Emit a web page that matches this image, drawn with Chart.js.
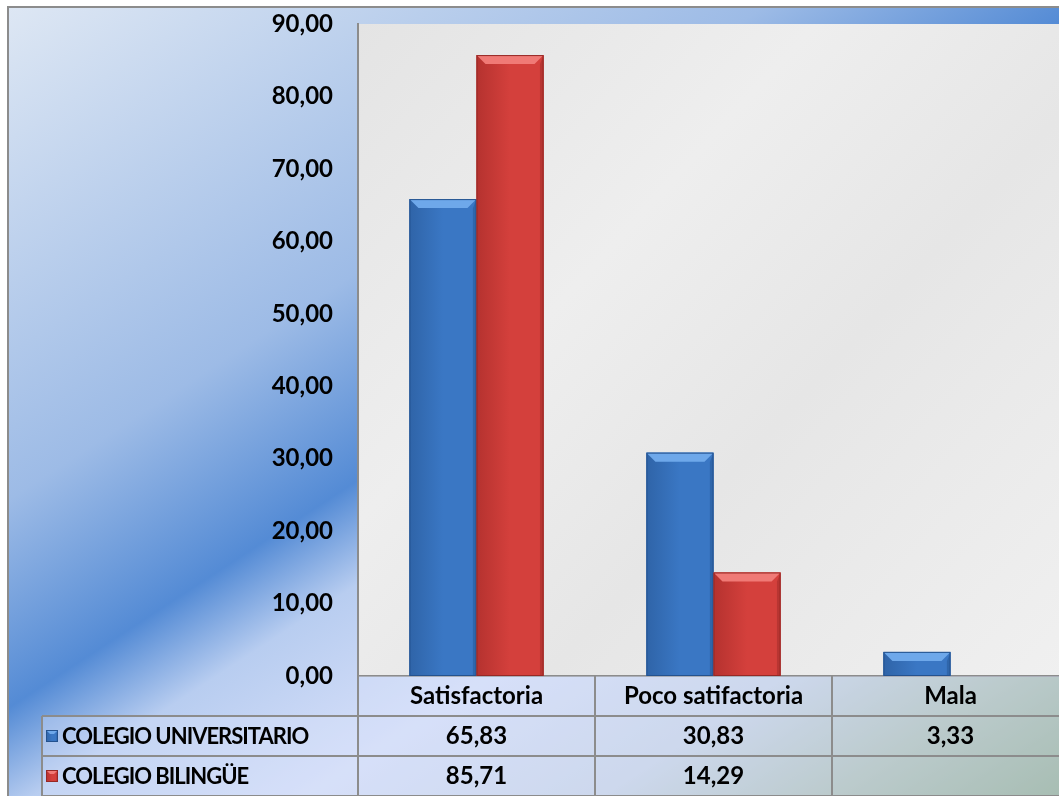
<!DOCTYPE html>
<html>
<head>
<meta charset="utf-8">
<script src="https://cdn.jsdelivr.net/npm/chart.js@4"></script>
<style>
  html, body { margin: 0; padding: 0; background: #fff; overflow: hidden; }
  #wrap { width: 1075px; height: 796px; }
</style>
</head>
<body>
<div id="wrap"><canvas id="chart" width="1075" height="796"></canvas></div>
<script>
const categories = ['Satisfactoria', 'Poco satifactoria', 'Mala'];
const seriesNames = ['COLEGIO UNIVERSITARIO', 'COLEGIO BILINGÜE'];
const universitario = [65.83, 30.83, 3.33];
const bilingue = [85.71, 14.29, null];
const yTicks = [0, 10, 20, 30, 40, 50, 60, 70, 80, 90];

const FONT = 'Lato, "Noto Sans", sans-serif';
const fmt = v => v.toFixed(2).replace('.', ',');

const palette = [
  { body: '#3a77c4', dark: '#24528e', light: '#6ea8ea', left: '#2f64a8' },
  { body: '#d4403c', dark: '#962825', light: '#f07a76', left: '#b5322f' }
];

function bevelRect(ctx, l, t, w, h, c, b) {
  const r = l + w, btm = t + h;
  const g = ctx.createLinearGradient(l, 0, r, 0);
  g.addColorStop(0, c.left);
  g.addColorStop(0.5, c.body);
  g.addColorStop(1, c.body);
  ctx.fillStyle = g;
  ctx.fillRect(l, t, w, h);
  b = Math.min(b, h / 2, w / 2);
  // top bevel
  ctx.fillStyle = c.light;
  ctx.beginPath();
  ctx.moveTo(l, t); ctx.lineTo(r, t); ctx.lineTo(r - b, t + b); ctx.lineTo(l + b, t + b);
  ctx.closePath(); ctx.fill();
  // right bevel
  ctx.fillStyle = c.dark;
  ctx.globalAlpha = 0.45;
  ctx.beginPath();
  ctx.moveTo(r, t); ctx.lineTo(r, btm); ctx.lineTo(r - b * 0.4, btm); ctx.lineTo(r - b * 0.4, t + b);
  ctx.closePath(); ctx.fill();
  ctx.globalAlpha = 1;
  ctx.strokeStyle = c.dark;
  ctx.lineWidth = 1;
  ctx.strokeRect(l + 0.5, t + 0.5, w - 1, h - 1);
}

const backgroundPlugin = {
  id: 'bg',
  beforeDraw(chart) {
    const { ctx, chartArea: a } = chart;
    const W = chart.width, H = chart.height;
    ctx.save();
    const g = ctx.createLinearGradient(0, 0, 680, 1043);
    g.addColorStop(0, '#dfe8f4');
    g.addColorStop(0.34, '#9dbbe6');
    g.addColorStop(0.48, '#548bd5');
    g.addColorStop(0.55, '#b8cdf0');
    g.addColorStop(0.67, '#d6dff9');
    g.addColorStop(0.8, '#c6d2e4');
    g.addColorStop(0.9, '#a9bcae');
    g.addColorStop(1, '#88a684');
    ctx.fillStyle = g;
    ctx.fillRect(8, 7, W - 8, H - 7);
    ctx.strokeStyle = '#8c8c8c';
    ctx.lineWidth = 2;
    ctx.beginPath();
    ctx.moveTo(8, H); ctx.lineTo(8, 7); ctx.lineTo(W, 7);
    ctx.stroke();
    // marble-like plot area
    const pg = ctx.createLinearGradient(a.left, a.top, a.right, a.bottom);
    pg.addColorStop(0, '#e4e4e4');
    pg.addColorStop(0.35, '#eeeeee');
    pg.addColorStop(0.6, '#e6e6e6');
    pg.addColorStop(1, '#f0f0f0');
    ctx.fillStyle = pg;
    ctx.fillRect(a.left, a.top, a.right - a.left, a.bottom - a.top);
    ctx.restore();
  }
};

const barsPlugin = {
  id: 'bevelBars',
  afterDatasetsDraw(chart) {
    const ctx = chart.ctx;
    ctx.save();
    chart.data.datasets.forEach((ds, i) => {
      chart.getDatasetMeta(i).data.forEach((el, j) => {
        if (ds.data[j] == null) return;
        const p = el.getProps(['x', 'y', 'base', 'width'], true);
        bevelRect(ctx, p.x - p.width / 2, p.y, p.width, p.base - p.y, palette[i], 9);
      });
    });
    ctx.restore();
  }
};

const tablePlugin = {
  id: 'dataTable',
  afterDraw(chart) {
    const { ctx, chartArea: a } = chart;
    const x = chart.scales.x;
    const rowH = 40;
    const top = a.bottom;
    const n = categories.length;
    const colW = (a.right - a.left) / n;
    const legLeft = 42;
    ctx.save();
    // cell tint
    ctx.fillStyle = 'rgba(214,224,250,0.4)';
    ctx.fillRect(a.left, top, a.right - a.left, rowH * 3);
    ctx.fillRect(legLeft, top + rowH, a.left - legLeft, rowH * 2);
    ctx.strokeStyle = '#8c8c8c';
    ctx.lineWidth = 2;
    ctx.beginPath();
    [top + rowH, top + rowH * 2, top + rowH * 3].forEach(y => {
      ctx.moveTo(legLeft, y); ctx.lineTo(a.right, y);
    });
    ctx.moveTo(legLeft, top + rowH); ctx.lineTo(legLeft, top + rowH * 3);
    for (let k = 0; k <= n; k++) {
      const xx = a.left + colW * k;
      ctx.moveTo(xx, top); ctx.lineTo(xx, top + rowH * 3);
    }
    ctx.stroke();

    ctx.fillStyle = '#000';
    ctx.font = 'bold 24px ' + FONT;
    ctx.textAlign = 'center';
    ctx.textBaseline = 'middle';
    categories.forEach((c, k) => {
      const cx = x.getPixelForValue(k);
      ctx.fillText(c, cx, top + rowH / 2);
      [universitario, bilingue].forEach((arr, r) => {
        if (arr[k] != null) ctx.fillText(fmt(arr[k]), cx, top + rowH * (r + 1.5));
      });
    });
    ctx.textAlign = 'left';
    ctx.font = 'bold 22px ' + FONT;
    ctx.letterSpacing = '-1px';
    seriesNames.forEach((s, r) => {
      const cy = top + rowH * (r + 1.5);
      bevelRect(ctx, 46, cy - 6, 12, 12, palette[r], 4);
      ctx.fillStyle = '#000';
      ctx.fillText(s, 62, cy + 1);
    });
    ctx.restore();
  }
};

new Chart(document.getElementById('chart'), {
  type: 'bar',
  data: {
    labels: categories,
    datasets: [
      { label: seriesNames[0], data: universitario, backgroundColor: palette[0].body },
      { label: seriesNames[1], data: bilingue, backgroundColor: palette[1].body }
    ]
  },
  options: {
    responsive: false,
    animation: false,
    devicePixelRatio: 1,
    layout: { padding: { left: 8, top: 24, right: 6, bottom: 0 } },
    plugins: { legend: { display: false }, tooltip: { enabled: false } },
    datasets: { bar: { categoryPercentage: 0.566, barPercentage: 1 } },
    scales: {
      x: {
        grid: { display: false },
        border: { color: '#8c8c8c', width: 2 },
        ticks: { display: false },
        afterFit: s => { s.height = 120; }
      },
      y: {
        min: 0,
        max: 90,
        afterBuildTicks: s => { s.ticks = yTicks.map(v => ({ value: v })); },
        grid: { display: false, drawTicks: false },
        border: { color: '#8c8c8c', width: 2 },
        ticks: {
          padding: 25,
          color: '#000',
          font: { family: FONT, size: 24, weight: 'bold' },
          callback: v => fmt(v)
        },
        afterFit: s => { s.width = 350; s.paddingTop = 0; s.paddingBottom = 0; }
      }
    }
  },
  plugins: [backgroundPlugin, barsPlugin, tablePlugin]
});
</script>
</body>
</html>
